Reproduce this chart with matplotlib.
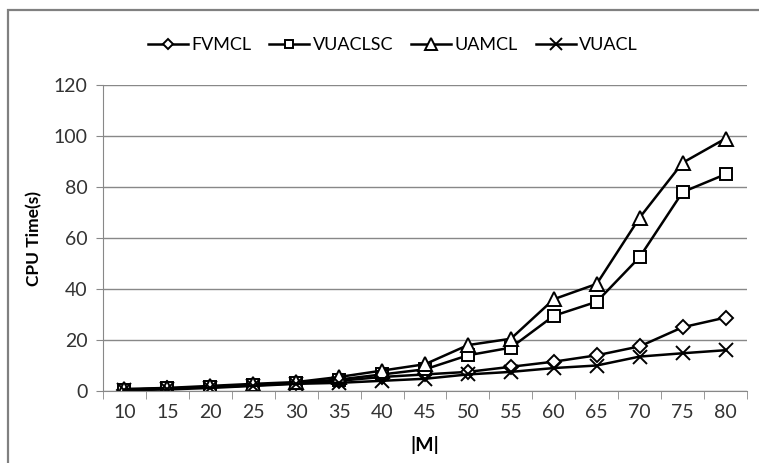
import matplotlib
matplotlib.use("Agg")
import matplotlib.pyplot as plt
from matplotlib.patches import Rectangle

# |M| categories
m_values = [10, 15, 20, 25, 30, 35, 40, 45, 50, 55, 60, 65, 70, 75, 80]

# CPU time (s) per method
fvmcl = [0.5, 1, 1.5, 2.2, 3, 4, 5.5, 6.5, 7.5, 9.5, 11.5, 14, 17.5, 25, 28.8]
vuaclsc = [0.5, 1, 1.5, 2.3, 3.2, 4.5, 6.5, 8.5, 14, 17, 29.5, 35, 52.5, 78, 85]
uamcl = [0.8, 1.2, 2, 2.8, 3.5, 5.5, 8, 10.5, 18, 20.5, 36, 42, 68, 89.5, 99]
vuacl = [0.3, 0.6, 1.2, 2, 2.8, 3.2, 4, 4.8, 6.5, 7.5, 9, 10, 13.5, 14.8, 16]

plt.rcParams['font.family'] = ['Lato', 'DejaVu Sans']

fig = plt.figure(figsize=(7.59, 4.63), dpi=100)
ax = fig.add_axes([103 / 759, 1 - 391 / 463, 644 / 759, 306 / 463])

# outer chart frame (Excel style)
fig.patches.append(Rectangle((8 / 759, -0.05), 1.2, 1 - 10 / 463 + 0.05,
                             transform=fig.transFigure, fill=False,
                             edgecolor='#808080', linewidth=1.6))

pos = list(range(len(m_values)))
series = [
    ('FVMCL', fvmcl, 'D', 7),
    ('VUACLSC', vuaclsc, 's', 8),
    ('UAMCL', uamcl, '^', 10),
    ('VUACL', vuacl, 'x', 10),
]
for name, vals, mk, ms in series:
    ax.plot(pos, vals, color='black', linewidth=1.8, marker=mk, markersize=ms,
            markerfacecolor='white', markeredgecolor='black', markeredgewidth=1.4, label=name)

ax.set_xlim(-0.5, len(m_values) - 0.5)
ax.set_ylim(0, 120)
ax.set_yticks(range(0, 121, 20))
ax.set_xticks(pos)
ax.set_xticklabels([str(m) for m in m_values])
ax.set_xticks([p - 0.5 for p in range(len(m_values) + 1)], minor=True)
ax.tick_params(axis='x', which='major', length=0, labelsize=14, pad=9, colors='#333333')
ax.tick_params(axis='x', which='minor', length=6, color='#888888', direction='out')
ax.tick_params(axis='y', length=5, labelsize=14, pad=6, colors='#333333')
ax.tick_params(axis='y', color='#888888')

ax.grid(axis='y', color='#888888', linewidth=1)
ax.set_axisbelow(True)
for s in ['top', 'right']:
    ax.spines[s].set_visible(False)
ax.spines['left'].set_color('#888888')
ax.spines['bottom'].set_color('#888888')

ax.set_ylabel('CPU Time(s)', fontsize=12.5, fontweight='bold', labelpad=8)
ax.set_xlabel('|M|', fontsize=14, fontweight='bold', labelpad=11)

leg = ax.legend(loc='center', bbox_to_anchor=(393 / 759, 1 - 45 / 463),
                bbox_transform=fig.transFigure, ncol=4, frameon=False,
                fontsize=13, handlelength=2.2, columnspacing=1.0, handletextpad=0.2,
                markerscale=0.8)

fig.savefig('out.png', dpi=100)
